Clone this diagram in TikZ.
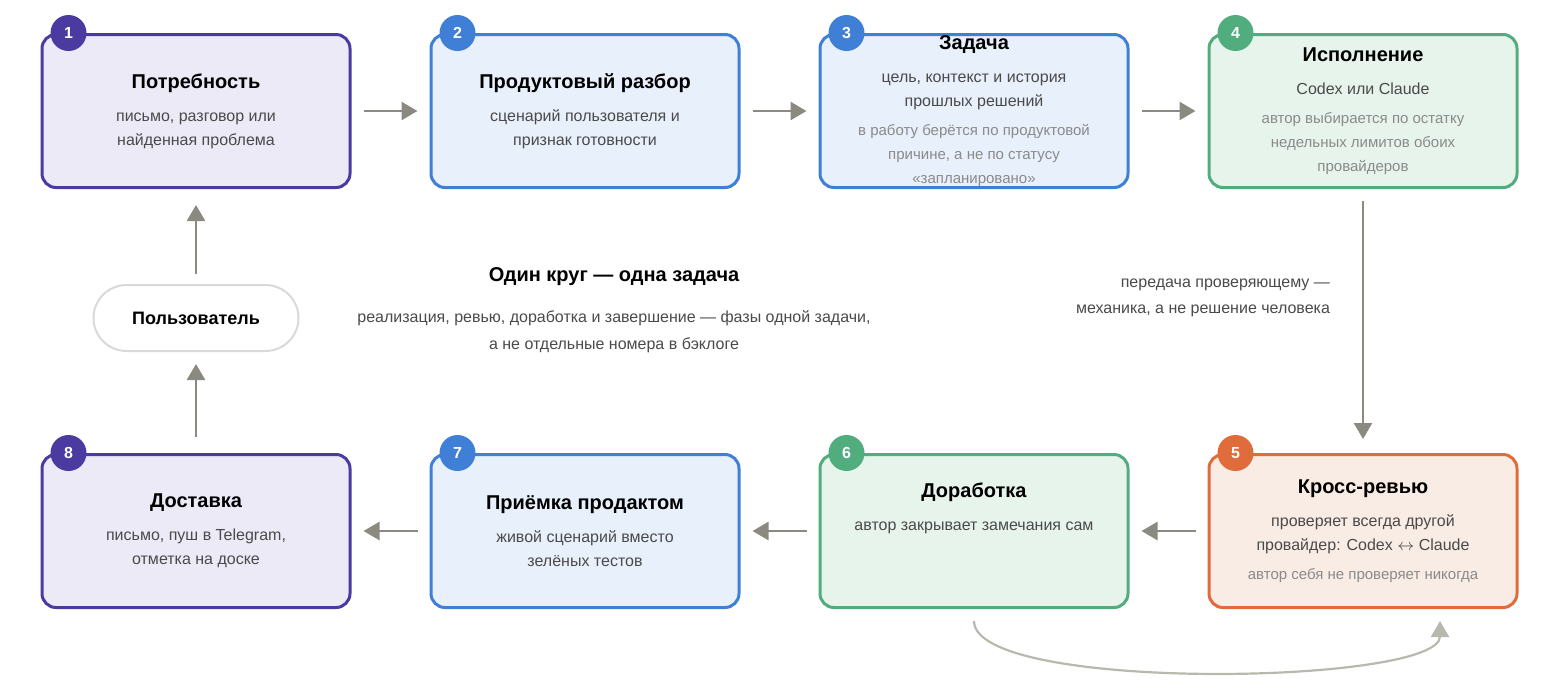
\documentclass[tikz,border=0pt]{standalone}
\usepackage{fontspec}
\setmainfont{Liberation Sans}
\usetikzlibrary{positioning,arrows.meta}
\definecolor{purpleLine}{HTML}{4B3AA0}
\definecolor{purpleFill}{HTML}{ECEAF7}
\definecolor{blueLine}{HTML}{3F7FD6}
\definecolor{blueFill}{HTML}{E8F0FB}
\definecolor{greenLine}{HTML}{52AD7E}
\definecolor{greenFill}{HTML}{E7F4EC}
\definecolor{orangeLine}{HTML}{E06C3C}
\definecolor{orangeFill}{HTML}{F9ECE5}
\definecolor{subText}{HTML}{4A4A4A}
\definecolor{noteText}{HTML}{8A8A8A}
\definecolor{flowColor}{HTML}{8A8A80}
\definecolor{loopColor}{HTML}{B8B8AE}
\tikzstyle{stepStyle} = [rounded corners = 7pt, line width = 1.5pt, minimum width = 154pt, minimum height = 76.5pt, align = center, inner sep = 0pt, font = \fontsize{8}{12}\selectfont]
\tikzstyle{badgeStyle} = [circle, minimum size = 18pt, inner sep = 0pt, text = white, font = \bfseries\fontsize{8}{10}\selectfont]
\tikzstyle{flow} = [color = flowColor, line width = 1.3pt, -{Triangle[length=8pt, width=9pt]}]
\tikzstyle{userStyle} = [draw = black!15, line width = 1pt, rounded corners = 16.5pt, minimum width = 102.5pt, minimum height = 33pt, font = \bfseries\fontsize{9}{11}\selectfont]
\newcommand{\stepTitle}[1]{{\bfseries\fontsize{10}{12}\selectfont #1}}
\newcommand{\note}[1]{{\color{noteText}\fontsize{7.5}{11.5}\selectfont #1}}
\newcommand{\stepBox}[6]{
  \node [stepStyle, draw = #4Line, fill = #4Fill] (#1) at (#2, #3) {#6};
  \node [badgeStyle, fill = #4Line] (#1n) at ([xshift = 14pt]#1.north west) {#5};
}
\begin{document}
\begin{tikzpicture}[x = 0.5pt, y = -0.5pt]
  \useasboundingbox (0,0) rectangle (1560,687);
  % top row
  \stepBox{need}{196}{111}{purple}{1}{\stepTitle{Потребность}\\[4.5pt]
    \color{subText}письмо, разговор или\\ \color{subText}найденная проблема}
  \stepBox{review}{585}{111}{blue}{2}{\stepTitle{Продуктовый разбор}\\[4.5pt]
    \color{subText}сценарий пользователя и\\ \color{subText}признак готовности}
  \stepBox{task}{974}{111}{blue}{3}{\stepTitle{Задача}\\[4.5pt]
    \color{subText}цель, контекст и история\\ \color{subText}прошлых решений\\[2.5pt]
    \note{в работу берётся по продуктовой}\\ \note{причине, а не по статусу}\\ \note{«запланировано»}}
  \stepBox{run}{1363}{111}{green}{4}{\stepTitle{Исполнение}\\[4.5pt]
    \color{subText}Codex или Claude\\[2.5pt]
    \note{автор выбирается по остатку}\\ \note{недельных лимитов обоих}\\ \note{провайдеров}}
  % bottom row
  \stepBox{cross}{1363}{531}{orange}{5}{\stepTitle{Кросс-ревью}\\[4.5pt]
    \color{subText}проверяет всегда другой\\ \color{subText}провайдер: Codex $\leftrightarrow$ Claude\\[2.5pt]
    \note{автор себя не проверяет никогда}}
  \stepBox{fix}{974}{531}{green}{6}{\stepTitle{Доработка}\\[4.5pt]
    \color{subText}автор закрывает замечания сам\\[12pt]}
  \stepBox{accept}{585}{531}{blue}{7}{\stepTitle{Приёмка продактом}\\[4.5pt]
    \color{subText}живой сценарий вместо\\ \color{subText}зелёных тестов}
  \stepBox{ship}{196}{531}{purple}{8}{\stepTitle{Доставка}\\[4.5pt]
    \color{subText}письмо, пуш в Telegram,\\ \color{subText}отметка на доске}
  \node [userStyle] (user) at (196,318) {Пользователь};
  % centre text
  \node [align = center, font = \fontsize{8}{13.5}\selectfont] (cycle) at (614,310)
    {{\bfseries\fontsize{10}{12}\selectfont Один круг — одна задача}\\[7pt]
    \color{subText}реализация, ревью, доработка и завершение — фазы одной задачи,\\
    \color{subText}а не отдельные номера в бэклоге};
  \node [align = right, anchor = east, font = \fontsize{8}{13}\selectfont, text = subText] (handoff) at (1337,298)
    {передача проверяющему —\\ механика, а не решение человека};
  % connectors
  \draw [flow] ([xshift = 6pt]need.east) -- ([xshift = -6pt]review.west);
  \draw [flow] ([xshift = 6pt]review.east) -- ([xshift = -6pt]task.west);
  \draw [flow] ([xshift = 6pt]task.east) -- ([xshift = -6pt]run.west);
  \draw [flow] ([yshift = -6pt]run.south) -- ([yshift = 7pt]cross.north);
  \draw [flow] ([xshift = -6pt]cross.west) -- ([xshift = 6pt]fix.east);
  \draw [flow] ([xshift = -6pt]fix.west) -- ([xshift = 6pt]accept.east);
  \draw [flow] ([xshift = -6pt]accept.west) -- ([xshift = 6pt]ship.east);
  \draw [flow] ([yshift = 8pt]ship.north) -- ([yshift = -6pt]user.south);
  \draw [flow] ([yshift = 5pt]user.north) -- ([yshift = -8pt]need.south);
  \draw [flow, color = loopColor, line width = 1.1pt] ([yshift = -6pt]fix.south) .. controls +(0pt,-36pt) and +(0pt,-32pt) .. ([xshift = 38.5pt, yshift = -6pt]cross.south);
\end{tikzpicture}
\end{document}
